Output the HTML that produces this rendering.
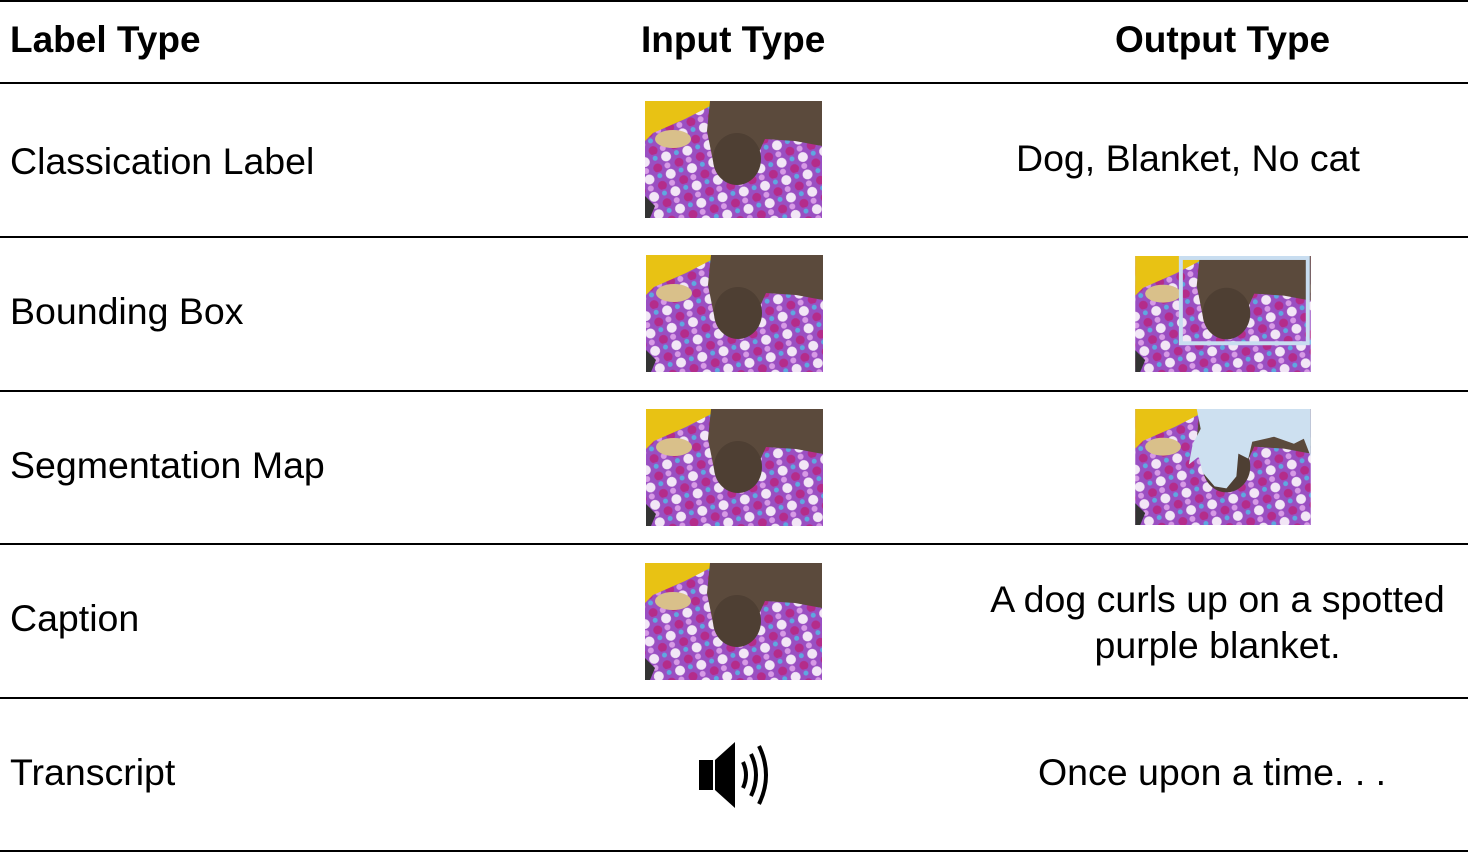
<!DOCTYPE html>
<html><head><meta charset="utf-8"><style>
html,body{margin:0;padding:0;background:#fff;}
body{width:1468px;height:853px;position:relative;overflow:hidden;font-family:"Liberation Sans",Arial,sans-serif;color:#000;}
.t{position:absolute;font-size:37.5px;line-height:1;white-space:nowrap;}
.h{font-weight:bold;font-size:37px;}
.rule{position:absolute;left:0;width:1468px;height:2px;background:#000;}
.img{position:absolute;width:177px;height:117px;}
</style></head><body>
<svg width="0" height="0" style="position:absolute">
<defs>
<pattern id="dots" width="22" height="18" patternUnits="userSpaceOnUse" patternTransform="rotate(-15)">
<rect width="22" height="18" fill="#9a4fc2"/>
<circle cx="6" cy="5" r="5" fill="#f2e6f6"/>
<circle cx="17" cy="14" r="4.5" fill="#b42c8a"/>
<circle cx="17" cy="4" r="2.5" fill="#5fa8e0"/>
<circle cx="5" cy="14" r="3" fill="#d79ae6"/>
</pattern>
<g id="dogimg">
<rect width="177" height="117" fill="url(#dots)"/>
<polygon points="0,0 75,0 40,18 8,32 0,40" fill="#e8c214"/>
<ellipse cx="28" cy="38" rx="18" ry="9" fill="#d9c08a"/>
<path d="M65,0 L177,0 L177,45 L150,40 L120,38 L110,60 L100,80 L80,78 L68,60 L62,30 Z" fill="#5b4a3c"/>
<ellipse cx="92" cy="58" rx="24" ry="26" fill="#4e3f33"/>
<path d="M0,95 L10,105 L5,117 L0,117 Z" fill="#333"/>
</g>
</defs>
</svg>

<div class="rule" style="top:0px"></div>
<div class="t h" style="left:10px;top:21px">Label Type</div>
<div class="t h" style="left:641px;top:21px">Input Type</div>
<div class="t h" style="left:1115px;top:21px">Output Type</div>
<div class="rule" style="top:82px"></div>

<div class="t" style="left:10px;top:143px">Classication Label</div>
<svg class="img" style="left:645px;top:101px" viewBox="0 0 177 117"><use href="#dogimg"/></svg>
<div class="t" style="left:1016px;top:140px">Dog, Blanket, No cat</div>
<div class="rule" style="top:236px;height:1.5px"></div>

<div class="t" style="left:10px;top:293px">Bounding Box</div>
<svg class="img" style="left:646px;top:255px" viewBox="0 0 177 117"><use href="#dogimg"/></svg>
<svg class="img" style="left:1135px;top:256px;width:176px;height:116px" viewBox="0 0 177 117"><use href="#dogimg"/><rect x="46" y="2" width="128" height="86" fill="none" stroke="#c8ddf0" stroke-width="4"/></svg>
<div class="rule" style="top:390px;height:1.5px"></div>

<div class="t" style="left:10px;top:447px">Segmentation Map</div>
<svg class="img" style="left:646px;top:409px" viewBox="0 0 177 117"><use href="#dogimg"/></svg>
<svg class="img" style="left:1135px;top:409px;width:176px;height:116px" viewBox="0 0 177 117"><use href="#dogimg"/><path d="M62,0 L177,0 L177,48 L170,30 L160,35 L140,28 L118,33 L114,50 L104,45 L102,68 L92,80 L80,78 L68,64 L64,48 L54,56 L58,35 L66,20 Z" fill="#cde0f0"/></svg>
<div class="rule" style="top:543px;height:1.5px"></div>

<div class="t" style="left:10px;top:600px">Caption</div>
<svg class="img" style="left:645px;top:563px" viewBox="0 0 177 117"><use href="#dogimg"/></svg>
<div class="t" style="left:980px;top:576px;width:475px;text-align:center;line-height:46px;white-space:normal">A dog curls up on a spotted purple blanket.</div>
<div class="rule" style="top:697px;height:1.5px"></div>

<div class="t" style="left:10px;top:754px">Transcript</div>
<svg style="position:absolute;left:697px;top:740px" width="72" height="70" viewBox="0 0 72 70">
<rect x="2" y="20" width="14" height="30" fill="#000"/>
<polygon points="18,20 38,2 38,68 18,50" fill="#000"/>
<path d="M46,22 Q52,35 46,48" stroke="#000" stroke-width="4" fill="none"/>
<path d="M54,14 Q64,35 54,56" stroke="#000" stroke-width="4" fill="none"/>
<path d="M62,6 Q76,35 62,64" stroke="#000" stroke-width="4" fill="none"/>
</svg>
<div class="t" style="left:1038px;top:754px">Once upon a time. . .</div>
<div class="rule" style="top:850px"></div>
</body></html>
